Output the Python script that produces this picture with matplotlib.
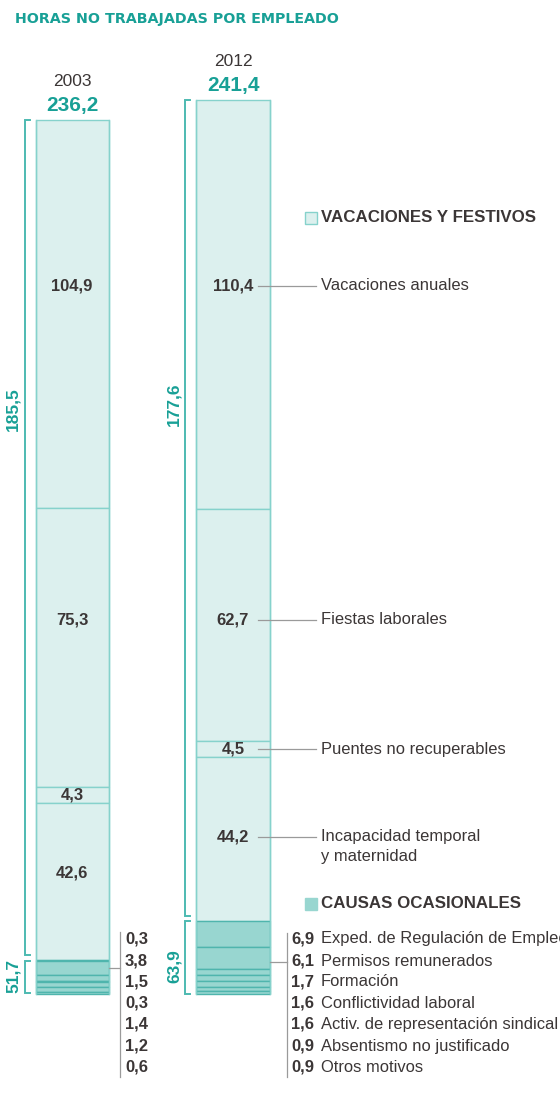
import matplotlib
matplotlib.use('Agg')
from matplotlib import pyplot as plt
from matplotlib.patches import Rectangle

# data (hours per employee), listed top to bottom as stacked in the chart
years = ['2003', '2012']
totals = ['236,2', '241,4']
vacaciones_2003 = [104.9, 75.3, 4.3, 42.6]
vacaciones_2012 = [110.4, 62.7, 4.5, 44.2]
causas_2003 = [0.3, 3.8, 1.5, 0.3, 1.4, 1.2, 0.6]
causas_2012 = [6.9, 6.1, 1.7, 1.6, 1.6, 0.9, 0.9]
group_2003 = ['185,5', '51,7']
group_2012 = ['177,6', '63,9']
vac_names = ['Vacaciones anuales', 'Fiestas laborales', 'Puentes no recuperables',
             'Incapacidad temporal\ny maternidad']
causas_names = ['Exped. de Regulación de Empleo', 'Permisos remunerados', 'Formación',
                'Conflictividad laboral', 'Activ. de representación sindical',
                'Absentismo no justificado', 'Otros motivos']

TEAL = '#18a096'
LIGHT = '#dcf0ee'
LIGHT_EDGE = '#86d2cc'
DARK = '#98d6d0'
DARK_EDGE = '#4fb5ad'
BRACKET = '#4dbab1'
TXT = '#3b3636'
GREY = '#9a9a9a'

plt.rcParams['font.family'] = ['Liberation Sans', 'DejaVu Sans']

W, H = 560, 1096
BASE = 994      # pixel row of the zero line
S = 3.702       # pixels per hour
FS = 11.9       # label size
FSV = 11.9      # value size

def fmt(v):
    return ('%.1f' % v).replace('.', ',')

def py(y):
    # pixel row -> data value
    return (BASE - y) / S

fig = plt.figure(figsize=(W / 100, H / 100), dpi=100)
ax = fig.add_axes([0, 0, 1, 1])
ax.set_xlim(0, W)
ax.set_ylim(py(H), py(0))
ax.axis('off')

bars = [(72, 73, vacaciones_2003, causas_2003), (233, 74, vacaciones_2012, causas_2012)]
tops = []
for xc, bw, vac, cau in bars:
    segs = vac + cau
    colors = [LIGHT] * len(vac) + [DARK] * len(cau)
    edges = [LIGHT_EDGE] * len(vac) + [DARK_EDGE] * len(cau)
    total = sum(segs)
    bottoms = []
    top = total
    for v in segs:
        top -= v
        bottoms.append(top)
    ax.bar([xc] * len(segs), segs, bottom=bottoms, width=bw, color=colors,
           edgecolor=edges, linewidth=1.0)
    # side edges in light teal
    ax.plot([xc - bw / 2, xc - bw / 2], [0, total], color=LIGHT_EDGE, lw=1.0)
    ax.plot([xc + bw / 2, xc + bw / 2], [0, total], color=LIGHT_EDGE, lw=1.0)
    tops.append((total, bottoms))

# year headers and totals
ax.text(72, py(82), years[0], ha='center', va='center', fontsize=12.5, color=TXT)
ax.text(72, py(105), totals[0], ha='center', va='center', fontsize=15,
        fontweight='bold', color=TEAL)
ax.text(233, py(62), years[1], ha='center', va='center', fontsize=12.5, color=TXT)
ax.text(233, py(86), totals[1], ha='center', va='center', fontsize=15,
        fontweight='bold', color=TEAL)

# title
ax.text(15, py(19), 'HORAS NO TRABAJADAS POR EMPLEADO', ha='left', va='center',
        fontsize=10.3, fontweight='bold', color=TEAL, family='DejaVu Sans')

# in-bar values
label_rows_2003 = [286, 620, None, 873]
label_rows_2012 = [286, 620, None, 837]
for (xc, bw, vac, cau), (total, bottoms), rows in zip(bars, tops, [label_rows_2003, label_rows_2012]):
    for i, v in enumerate(vac):
        y = py(rows[i]) if rows[i] is not None else bottoms[i] + v / 2
        ax.text(xc, y, fmt(v), ha='center', va='center', fontsize=FSV,
                fontweight='bold', color=TXT)

# leaders and names for vacaciones (2012)
total12, bottoms12 = tops[1]
name_rows = [py(286), py(620), bottoms12[2] + vacaciones_2012[2] / 2, py(837)]
for name, y in zip(vac_names, name_rows):
    ax.plot([258, 316], [y, y], color=GREY, lw=0.9)
    for k, line in enumerate(name.split('\n')):
        ax.text(321, y - k * 20 / S, line, ha='left', va='center', fontsize=FS,
                color=TXT)

# legend headings
for ytxt, col, label in [(218, LIGHT, 'VACACIONES Y FESTIVOS'), (904, DARK, 'CAUSAS OCASIONALES')]:
    ax.add_patch(Rectangle((305, py(ytxt + 6)), 12, 12 / S, facecolor=col,
                           edgecolor=LIGHT_EDGE if col == LIGHT else DARK, lw=1.0))
    ax.text(321, py(ytxt), label, ha='left', va='center', fontsize=12.2,
            fontweight='bold', color=TXT)

# causas lists
rows = [939, 961, 982, 1003, 1024, 1046, 1067]
# 2003 values only
ax.plot([108.5, 120], [py(968), py(968)], color=GREY, lw=0.9)
ax.plot([120, 120], [py(932), py(1077)], color=GREY, lw=0.9)
for v, r in zip(causas_2003, rows):
    ax.text(125, py(r), fmt(v), ha='left', va='center', fontsize=FSV,
            fontweight='bold', color=TXT)
# 2012 values and names
ax.plot([270, 287], [py(962), py(962)], color=GREY, lw=0.9)
ax.plot([287, 287], [py(933), py(1077)], color=GREY, lw=0.9)
for v, name, r in zip(causas_2012, causas_names, rows):
    ax.text(291, py(r), fmt(v), ha='left', va='center', fontsize=FSV,
            fontweight='bold', color=TXT)
    ax.text(321, py(r), name, ha='left', va='center', fontsize=FS, color=TXT)

# brackets
def bracket(x, y0, y1):
    ax.plot([x + 5, x, x, x + 5], [py(y0), py(y0), py(y1), py(y1)],
            color=BRACKET, lw=1.4, solid_joinstyle='miter')

bracket(25, 120, 955)
bracket(25, 961, 993)
bracket(185, 100, 916)
bracket(185, 921, 994)
ax.text(13, py(409), group_2003[0], rotation=90, ha='center', va='center',
        fontsize=12.5, fontweight='bold', color=TEAL)
ax.text(13, py(976), group_2003[1], rotation=90, ha='center', va='center',
        fontsize=12.5, fontweight='bold', color=TEAL)
ax.text(174, py(404), group_2012[0], rotation=90, ha='center', va='center',
        fontsize=12.5, fontweight='bold', color=TEAL)
ax.text(174, py(966), group_2012[1], rotation=90, ha='center', va='center',
        fontsize=12.5, fontweight='bold', color=TEAL)

fig.savefig('out.png', dpi=100)
